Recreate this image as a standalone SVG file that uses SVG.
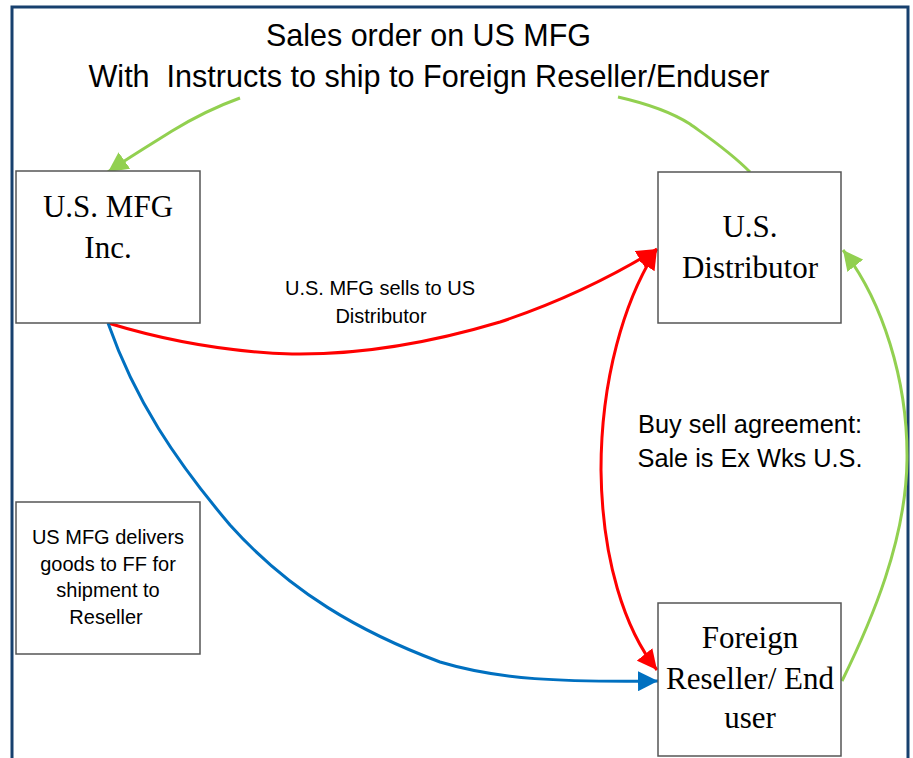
<svg xmlns="http://www.w3.org/2000/svg" width="913" height="758" viewBox="0 0 913 758">
  <style>
    .frame { fill: none; stroke: #17406E; stroke-width: 3; }
    .box { fill: #ffffff; stroke: #555555; stroke-width: 1.5; }
    .serif { font-family: "Liberation Serif", "Times New Roman", serif; font-size: 31px; fill: #000000; text-anchor: middle; }
    .sans { font-family: "Liberation Sans", Arial, sans-serif; fill: #000000; text-anchor: middle; }
    .title { font-size: 30.5px; }
    .label { font-size: 20px; }
    .big { font-size: 26px; }
    .red { fill: none; stroke: #FF0000; stroke-width: 3; }
    .blue { fill: none; stroke: #0070C0; stroke-width: 3; }
    .green { fill: none; stroke: #92D050; stroke-width: 3; }
  </style>
  <defs>
    <marker id="arrowRed" markerUnits="userSpaceOnUse" markerWidth="22" markerHeight="20" refX="20" refY="10" orient="auto-start-reverse">
      <path d="M0,0 L20,10 L0,20 Z" fill="#FF0000"/>
    </marker>
    <marker id="arrowBlue" markerUnits="userSpaceOnUse" markerWidth="22" markerHeight="20" refX="20" refY="10" orient="auto">
      <path d="M0,0 L20,10 L0,20 Z" fill="#0070C0"/>
    </marker>
    <marker id="arrowGreen" markerUnits="userSpaceOnUse" markerWidth="22" markerHeight="20" refX="20" refY="10" orient="auto">
      <path d="M0,0 L20,10 L0,20 Z" fill="#92D050"/>
    </marker>
  </defs>

  <rect width="913" height="758" fill="#ffffff"/>
  <!-- outer frame, open at the bottom edge -->
  <path class="frame" d="M12,760 L12,7 L908,7 L908,760"/>

  <!-- heading -->
  <g id="heading">
    <text class="sans title" x="428.5" y="46" textLength="325" lengthAdjust="spacingAndGlyphs">Sales order on US MFG</text>
    <text class="sans title" x="429" y="87" textLength="681" lengthAdjust="spacingAndGlyphs" xml:space="preserve">With  Instructs to ship to Foreign Reseller/Enduser</text>
  </g>

  <!-- connectors -->
  <g id="connectors">
    <!-- order flow: distributor up to heading, heading down to manufacturer -->
    <path class="green" d="M750,172 C 728,150 705,135 690,124 C 668,110 640,102 618,97"/>
    <path class="green" marker-end="url(#arrowGreen)" d="M240,98 C 215,107 190,120 172,131 C 145,148 125,160 108,172"/>
    <!-- foreign reseller back to distributor -->
    <path class="green" marker-end="url(#arrowGreen)" d="M842,681 C 872,620 906,540 907,460 C 908,380 882,300 843,250"/>
    <!-- manufacturer sells to distributor -->
    <path class="red" marker-end="url(#arrowRed)" d="M108,323 C 170,342 230,352 292,354 C 360,355 430,343 500,322 C 560,302 610,278 657,249"/>
    <!-- buy / sell agreement between distributor and reseller -->
    <path class="red" marker-start="url(#arrowRed)" marker-end="url(#arrowRed)" d="M657,249 C 624,300 601,380 601,470 C 602,560 625,630 657,670"/>
    <!-- goods shipped from manufacturer to reseller -->
    <path class="blue" marker-end="url(#arrowBlue)" d="M108,323 C 135,400 175,460 230,525 C 290,592 360,632 440,662 C 500,680 560,682 658,681"/>
  </g>

  <!-- connector labels -->
  <g id="label-sells">
    <text class="sans label" x="380" y="295">U.S. MFG sells to US</text>
    <text class="sans label" x="381" y="323">Distributor</text>
  </g>
  <g id="label-agreement">
    <text class="sans big" x="750" y="433" textLength="224" lengthAdjust="spacingAndGlyphs">Buy sell agreement:</text>
    <text class="sans big" x="750" y="467" textLength="225" lengthAdjust="spacingAndGlyphs">Sale is Ex Wks U.S.</text>
  </g>

  <!-- nodes -->
  <g id="node-mfg">
    <rect class="box" x="16" y="171" width="184" height="152"/>
    <text class="serif" x="108" y="217">U.S. MFG</text>
    <text class="serif" x="108" y="258">Inc.</text>
  </g>
  <g id="node-distributor">
    <rect class="box" x="658" y="172" width="183" height="151"/>
    <text class="serif" x="750" y="237">U.S.</text>
    <text class="serif" x="750" y="278">Distributor</text>
  </g>
  <g id="node-foreign">
    <rect class="box" x="658" y="603" width="183" height="153"/>
    <text class="serif" x="750" y="648">Foreign</text>
    <text class="serif" x="750" y="689">Reseller/ End</text>
    <text class="serif" x="750" y="728">user</text>
  </g>
  <g id="node-note">
    <rect class="box" x="16" y="502" width="184" height="152"/>
    <text class="sans label" x="108" y="544">US MFG delivers</text>
    <text class="sans label" x="108" y="571">goods to FF for</text>
    <text class="sans label" x="108" y="597">shipment to</text>
    <text class="sans label" x="106" y="624">Reseller</text>
  </g>
</svg>
